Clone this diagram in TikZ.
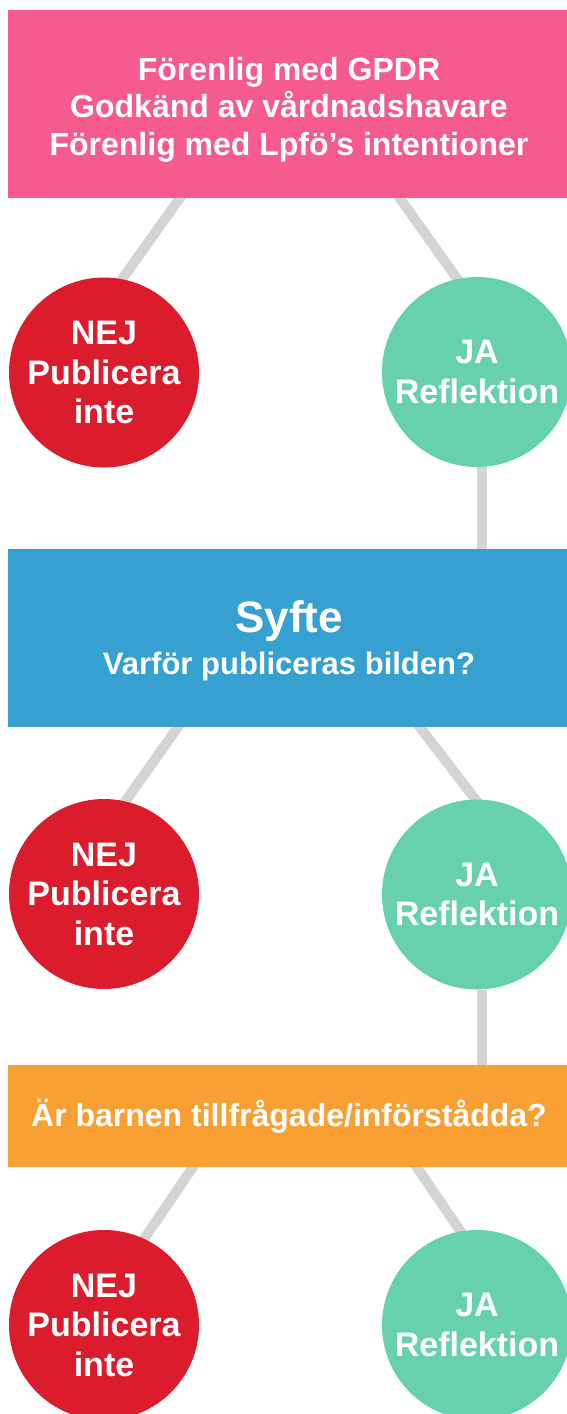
\documentclass[tikz,border=0pt]{standalone}
\usepackage{fontspec}
\setmainfont{Liberation Sans}
\usetikzlibrary{backgrounds,calc}
\definecolor{pinkc}{HTML}{F55B8E}
\definecolor{redc}{HTML}{DA1C2C}
\definecolor{greenc}{HTML}{66D1AB}
\definecolor{bluec}{HTML}{36A0D1}
\definecolor{orangec}{HTML}{F9A034}
\definecolor{linec}{HTML}{D4D4D4}
\begin{document}
\begin{tikzpicture}[x=1pt,y=-1pt,
  box/.style={rectangle, draw=none, minimum width=562pt, inner sep=0pt, text=white, align=center,
    font=\bfseries\fontsize{32}{37.5}\selectfont},
  disc/.style={circle, draw=none, minimum size=190pt, inner sep=0pt, text=white, align=center,
    font=\bfseries\fontsize{34}{39.5}\selectfont},
  nodisc/.style={disc, fill=redc},
  yesdisc/.style={disc, fill=greenc},
  conn/.style={draw=linec, line width=10pt, shorten <=-8pt, shorten >=-8pt},
  vconn/.style={draw=linec, line width=10pt}]
\useasboundingbox (0,0) rectangle (566,1414);

% level 1
\node[box, fill=pinkc, minimum height=188pt] (pink) at (289,104) {};
\node[text=white, align=center, inner sep=0pt, font=\bfseries\fontsize{32}{37.5}\selectfont] (pinktxt) at (289,109.5)
  {Förenlig med GPDR\\Godkänd av vårdnadshavare\\Förenlig med Lpfö’s intentioner};
\node[nodisc] (red1) at (104,372.5) {NEJ\\Publicera\\inte};
\node[yesdisc] (green1) at (477,372) {JA\\Reflektion};

% level 2
\node[box, fill=bluec, minimum height=178pt] (blue) at (289,638) {};
\node[anchor=base, text=white, inner sep=0pt, font=\bfseries\fontsize{44}{50}\selectfont] (syfte) at (289,632) {Syfte};
\node[anchor=base, text=white, inner sep=0pt, font=\bfseries\fontsize{31}{36}\selectfont] (varfor) at (289,674) {Varför publiceras bilden?};
\node[nodisc] (red2) at (104,894) {NEJ\\Publicera\\inte};
\node[yesdisc] (green2) at (477,894.5) {JA\\Reflektion};

% level 3
\node[box, fill=orangec, minimum height=102pt] (orange) at (289,1116) {Är barnen tillfrågade/införstådda?};
\node[nodisc] (red3) at (104,1325) {NEJ\\Publicera\\inte};
\node[yesdisc] (green3) at (477,1325) {JA\\Reflektion};

\begin{scope}[on background layer]
  \draw[conn] ([xshift=172pt]pink.south west) -- (red1.79);
  \draw[conn] ([xshift=392pt]pink.south west) -- (green1.102);
  \draw[vconn] ([xshift=5pt]green1.south) -- ([xshift=5pt]green1.south |- blue.north);
  \draw[conn] ([xshift=170pt]blue.south west) -- (red2.77);
  \draw[conn] ([xshift=412pt]blue.south west) -- (green2.91);
  \draw[vconn] ([xshift=5pt]green2.south) -- ([xshift=5pt]green2.south |- orange.north);
  \draw[conn] ([xshift=185pt]orange.south west) -- (red3.65);
  \draw[conn] ([xshift=409pt]orange.south west) -- (green3.100);
\end{scope}
\end{tikzpicture}
\end{document}
